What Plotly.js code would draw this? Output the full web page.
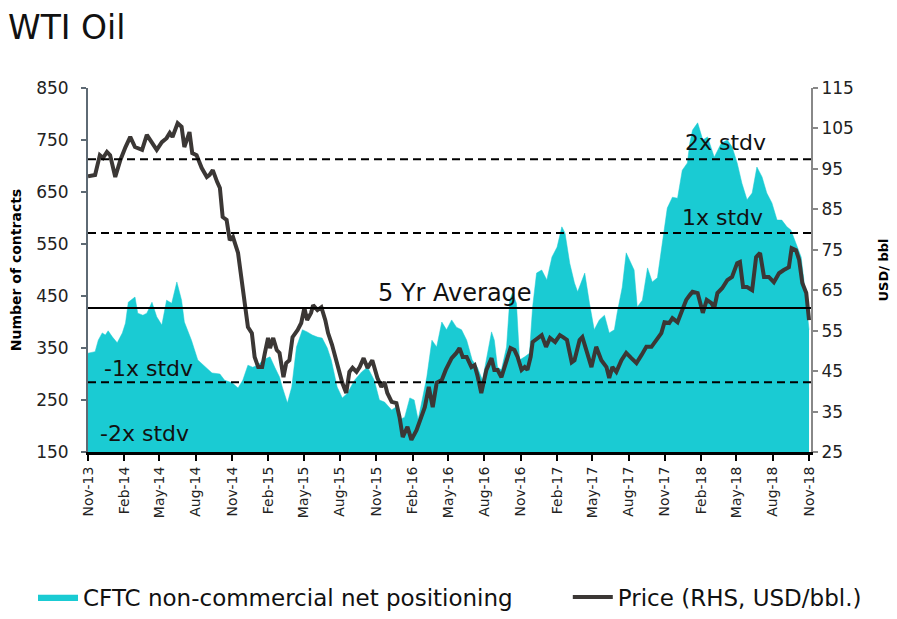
<!DOCTYPE html>
<html>
<head>
<meta charset="utf-8">
<script src="https://cdn.plot.ly/plotly-3.0.1.min.js"></script>
<style>html,body{margin:0;padding:0;background:#fff;}#chart{width:897px;height:619px;}</style>
</head>
<body>
<div id="chart"></div>
<script>
// CFTC non-commercial net positioning (thousand contracts)
const cftcDates = ["2013-11-01","2013-11-19","2013-11-27","2013-12-07","2013-12-15","2013-12-22","2014-01-02","2014-01-14","2014-01-27","2014-02-04","2014-02-11","2014-02-28","2014-03-07","2014-03-20","2014-03-30","2014-04-12","2014-04-24","2014-05-07","2014-05-19","2014-06-01","2014-06-14","2014-06-26","2014-07-03","2014-07-21","2014-08-06","2014-08-24","2014-09-11","2014-10-01","2014-10-13","2014-11-01","2014-11-16","2014-11-28","2014-12-11","2014-12-23","2015-01-06","2015-01-18","2015-02-05","2015-02-17","2015-03-01","2015-03-08","2015-03-21","2015-04-01","2015-04-13","2015-04-28","2015-05-10","2015-05-23","2015-06-05","2015-06-17","2015-06-30","2015-07-10","2015-07-25","2015-08-07","2015-08-20","2015-09-07","2015-09-25","2015-10-10","2015-10-27","2015-11-09","2015-11-22","2015-12-10","2015-12-22","2015-12-30","2016-01-12","2016-01-25","2016-02-05","2016-02-15","2016-02-25","2016-03-08","2016-03-21","2016-04-02","2016-04-15","2016-04-27","2016-05-10","2016-05-22","2016-06-04","2016-06-17","2016-07-01","2016-07-14","2016-07-27","2016-08-09","2016-08-19","2016-08-26","2016-09-03","2016-09-13","2016-09-26","2016-10-04","2016-10-11","2016-10-21","2016-10-29","2016-11-11","2016-11-23","2016-12-01","2016-12-11","2016-12-24","2017-01-06","2017-01-19","2017-02-01","2017-02-13","2017-02-21","2017-03-05","2017-03-17","2017-03-25","2017-04-12","2017-04-24","2017-05-06","2017-05-19","2017-06-01","2017-06-13","2017-06-26","2017-07-03","2017-07-16","2017-07-26","2017-08-08","2017-08-15","2017-08-23","2017-09-05","2017-09-18","2017-09-30","2017-10-13","2017-10-26","2017-11-07","2017-11-20","2017-12-03","2017-12-15","2017-12-28","2018-01-03","2018-01-10","2018-01-23","2018-02-05","2018-02-17","2018-03-06","2018-03-24","2018-04-08","2018-04-20","2018-05-03","2018-05-15","2018-05-28","2018-06-10","2018-06-22","2018-07-05","2018-07-17","2018-07-30","2018-08-12","2018-08-24","2018-09-06","2018-09-16","2018-09-29","2018-10-12","2018-10-19","2018-10-27","2018-11-01"];
const cftcValues = [340,343,365,379,375,383,371,360,379,398,438,448,417,413,417,438,410,394,442,436,477,442,400,365,327,315,302,300,288,283,273,288,317,313,317,327,333,313,294,275,244,275,352,385,381,375,371,369,350,327,275,254,263,288,304,313,288,250,246,231,237,212,217,254,250,212,250,294,365,352,400,385,404,390,385,365,327,313,288,340,381,365,313,308,352,442,456,436,327,333,340,429,494,500,481,525,544,583,571,513,475,458,494,436,385,404,413,379,385,417,467,533,513,500,429,442,504,477,485,558,619,640,638,692,706,744,769,783,750,756,717,744,750,737,706,667,635,648,698,679,648,629,596,596,583,577,552,525,481,429,385];

// WTI price (USD/bbl, right axis)
const priceDates = ["2013-11-01","2013-11-19","2013-12-01","2013-12-09","2013-12-19","2013-12-27","2014-01-09","2014-01-22","2014-02-04","2014-02-16","2014-02-28","2014-03-18","2014-03-30","2014-04-12","2014-04-24","2014-05-07","2014-05-19","2014-05-27","2014-06-03","2014-06-16","2014-06-26","2014-07-03","2014-07-16","2014-07-23","2014-08-03","2014-08-16","2014-08-29","2014-09-05","2014-09-13","2014-09-24","2014-10-01","2014-10-08","2014-10-18","2014-10-26","2014-11-03","2014-11-16","2014-11-26","2014-12-03","2014-12-11","2014-12-21","2014-12-28","2015-01-06","2015-01-16","2015-01-23","2015-01-31","2015-02-05","2015-02-13","2015-02-22","2015-03-01","2015-03-11","2015-03-18","2015-03-26","2015-04-03","2015-04-16","2015-04-25","2015-05-03","2015-05-10","2015-05-20","2015-05-25","2015-06-05","2015-06-15","2015-06-25","2015-07-02","2015-07-12","2015-07-17","2015-07-30","2015-08-07","2015-08-17","2015-08-25","2015-09-02","2015-09-12","2015-09-20","2015-09-30","2015-10-10","2015-10-22","2015-11-04","2015-11-14","2015-11-22","2015-11-29","2015-12-10","2015-12-22","2015-12-30","2016-01-07","2016-01-19","2016-01-29","2016-02-11","2016-02-25","2016-03-03","2016-03-13","2016-03-23","2016-04-02","2016-04-15","2016-04-25","2016-05-10","2016-05-22","2016-05-30","2016-06-07","2016-06-17","2016-06-29","2016-07-07","2016-07-14","2016-07-24","2016-08-06","2016-08-19","2016-08-26","2016-09-03","2016-09-13","2016-09-26","2016-10-06","2016-10-16","2016-10-24","2016-11-03","2016-11-11","2016-11-18","2016-11-26","2016-12-01","2016-12-14","2016-12-24","2017-01-04","2017-01-14","2017-01-27","2017-02-08","2017-02-16","2017-02-26","2017-03-10","2017-03-17","2017-03-30","2017-04-06","2017-04-16","2017-04-29","2017-05-11","2017-05-24","2017-06-06","2017-06-13","2017-06-21","2017-07-01","2017-07-14","2017-07-26","2017-08-08","2017-08-21","2017-09-03","2017-09-15","2017-09-28","2017-10-11","2017-10-23","2017-10-31","2017-11-12","2017-11-20","2017-12-03","2017-12-15","2017-12-25","2018-01-03","2018-01-10","2018-01-23","2018-02-05","2018-02-15","2018-02-27","2018-03-06","2018-03-14","2018-03-26","2018-04-08","2018-04-20","2018-05-03","2018-05-10","2018-05-18","2018-05-28","2018-06-10","2018-06-20","2018-06-30","2018-07-10","2018-07-22","2018-08-04","2018-08-17","2018-08-29","2018-09-11","2018-09-18","2018-09-29","2018-10-07","2018-10-15","2018-10-25","2018-11-01"];
const priceValues = [93.2,93.5,98.4,97.7,99.2,98.4,93.0,97.2,100.4,102.9,100.4,99.7,103.4,101.4,99.7,101.6,102.6,103.9,102.9,106.3,105.4,100.4,104.1,98.9,98.4,95.2,93.0,93.5,94.7,91.8,90.3,83.1,82.4,77.4,78.2,74.2,66.8,63.4,55.9,54.4,48.5,46.0,46.0,49.5,53.2,50.7,53.2,50.2,49.5,43.5,47.0,47.7,53.4,55.2,56.9,60.6,57.6,59.4,61.3,60.1,60.8,57.6,54.4,51.5,49.5,45.3,42.1,39.6,44.8,45.8,44.8,46.0,48.2,45.8,47.7,43.3,41.1,42.3,39.6,37.4,37.1,33.6,28.7,31.2,28.0,30.4,34.6,36.1,41.1,36.1,42.1,42.8,45.3,48.2,49.5,50.7,48.5,48.5,46.0,46.5,44.0,39.6,45.3,48.2,45.3,45.3,43.5,47.7,50.7,50.2,48.5,45.3,46.0,45.3,48.5,52.2,53.2,53.9,51.0,53.2,52.2,53.9,53.4,52.7,47.2,47.7,52.7,53.4,50.2,46.0,51.0,47.7,46.0,43.3,46.0,44.8,47.7,49.5,48.2,47.0,49.0,51.0,51.0,52.7,54.4,57.1,56.9,58.1,57.1,60.1,62.6,63.8,64.6,64.3,59.4,62.6,61.8,60.6,64.3,65.5,67.5,68.3,71.7,72.0,65.8,65.8,65.0,73.2,74.2,68.3,68.3,67.0,69.2,70.0,70.7,75.4,74.9,72.5,66.8,64.3,57.6];

// Reference levels for positioning (left axis)
const levelNames = ["2x stdv","1x stdv","5 Yr Average","-1x stdv","-2x stdv"];
const levelValues = [713, 571, 427, 284, 140];

const seriesNames = ["CFTC non-commercial net positioning","Price (RHS, USD/bbl.)"];
const leftTicks = [150,250,350,450,550,650,750,850];
const rightTicks = [25,35,45,55,65,75,85,95,105,115];

const FONT = "DejaVu Sans, Century Gothic, sans-serif";
const TEAL = "#1ACBD3";
const DARK = "#3B3735";

const traces = [
  {x: cftcDates, y: cftcValues, name: seriesNames[0], type: "scatter", mode: "lines",
   fill: "tozeroy", fillcolor: TEAL, line: {color: TEAL, width: 0.5}, yaxis: "y",
   legend: "legend", hoverinfo: "skip"},
  {x: priceDates, y: priceValues, name: seriesNames[1], type: "scatter", mode: "lines",
   line: {color: DARK, width: 4}, yaxis: "y2", legend: "legend2", hoverinfo: "skip"}
];

const shapes = levelValues.slice(0, 4).map((v, i) => ({
  type: "line", xref: "paper", x0: 0, x1: 1, yref: "y", y0: v, y1: v, layer: "above",
  line: {color: "#000", width: 2, dash: i === 2 ? "solid" : "8px,5px"}
}));

const annPos = [[0.882,0.849],[0.878,0.643],[0.508,0.437],[0.083,0.230],[0.078,0.052]];
const annSize = [22, 22, 24, 22, 22];
const annotations = levelNames.map((t, i) => ({
  text: t, xref: "paper", yref: "paper", x: annPos[i][0], y: annPos[i][1],
  xanchor: "center", yanchor: "middle", showarrow: false,
  font: {family: FONT, size: annSize[i], color: "#111"}
}));

const legendBase = {orientation: "h", xref: "container", yref: "container", xanchor: "left",
  y: 0.0355, yanchor: "middle",
  font: {family: FONT, size: 23, color: "#111"}, itemwidth: 40, bgcolor: "rgba(0,0,0,0)"};

const layout = {
  width: 897, height: 619,
  margin: {l: 88, r: 86, t: 88, b: 167, autoexpand: false},
  paper_bgcolor: "#fff", plot_bgcolor: "#fff",
  font: {family: FONT, color: "#222"},
  title: {text: "WTI Oil", x: 0.009, xref: "container", xanchor: "left",
          y: 0.955, yref: "container", yanchor: "middle",
          font: {family: FONT, size: 33, color: "#111"}},
  showlegend: true,
  legend: Object.assign({}, legendBase, {x: 0.0368}),
  legend2: Object.assign({}, legendBase, {x: 0.633}),
  xaxis: {type: "date", range: ["2013-11-01", "2018-11-06"], automargin: false,
          tickmode: "linear", tick0: "2013-11-01", dtick: "M3", tickformat: "%b-%y",
          tickangle: -90, tickfont: {family: FONT, size: 14, color: "#222"},
          ticks: "outside", ticklen: 6, tickwidth: 2, tickcolor: "#000",
          showline: true, linecolor: "#000", linewidth: 3, showgrid: false, zeroline: false},
  yaxis: {range: [150, 850], tickmode: "array", tickvals: leftTicks, automargin: false,
          tickfont: {family: FONT, size: 17, color: "#222"}, ticklabelstandoff: 9,
          ticks: "outside", ticklen: 5, tickwidth: 2, tickcolor: "#5E6A74",
          showline: true, linecolor: "#5E6A74", linewidth: 2, showgrid: false, zeroline: false,
          title: {text: "<b>Number of contracts</b>", standoff: 11,
                  font: {family: FONT, size: 14, color: "#000"}}},
  yaxis2: {range: [25, 115], overlaying: "y", side: "right", tickmode: "array", tickvals: rightTicks,
          automargin: false,
          tickfont: {family: FONT, size: 17, color: "#222"},
          ticks: "outside", ticklen: 5, tickwidth: 2, tickcolor: "#888",
          showline: true, linecolor: "#888", linewidth: 2, showgrid: false, zeroline: false,
          title: {text: "<b>USD/ bbl</b>", standoff: 26,
                  font: {family: FONT, size: 13, color: "#000"}}},
  shapes: shapes,
  annotations: annotations
};

Plotly.newPlot("chart", traces, layout, {displayModeBar: false, staticPlot: true});
</script>
</body>
</html>
